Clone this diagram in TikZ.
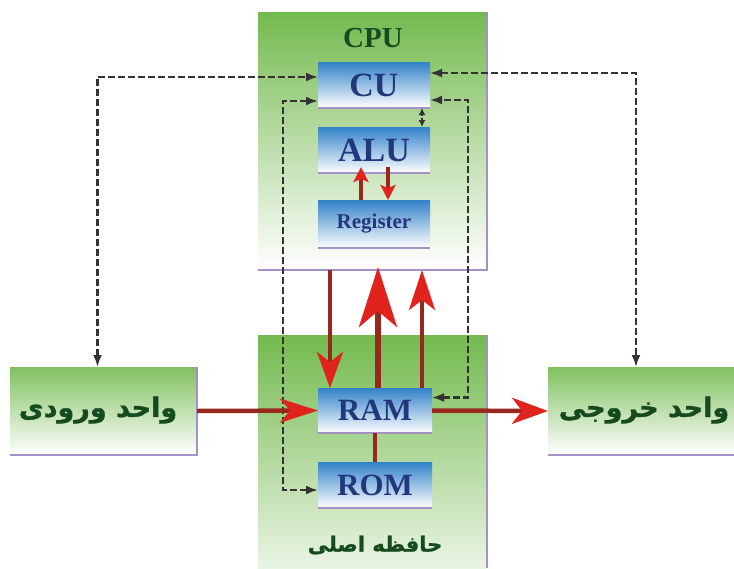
\documentclass[tikz,border=0pt]{standalone}
\usepackage{fontspec}
\setmainfont{Liberation Serif}
\newfontfamily\arabicfont[Script=Arabic,FakeBold=1.2]{DejaVu Sans Bold}
\TeXXeTstate=1
\usetikzlibrary{arrows.meta,calc}
\definecolor{panelgreen}{RGB}{115,186,78}
\definecolor{boxblue}{RGB}{50,130,200}
\definecolor{navy}{RGB}{35,55,125}
\definecolor{dkgreen}{RGB}{22,75,32}
\definecolor{shadowpurple}{RGB}{165,145,200}
\definecolor{arrowline}{RGB}{150,40,30}
\definecolor{arrowhead}{RGB}{225,35,30}
\tikzset{
  cpupanel/.style={rectangle, inner sep=0pt, outer sep=0pt, top color=panelgreen, middle color=panelgreen!60, bottom color=white, anchor=north west},
  mempanel/.style={rectangle, inner sep=0pt, outer sep=0pt, top color=panelgreen, middle color=panelgreen!60, bottom color=panelgreen!15, anchor=north west},
  iobox/.style={rectangle, inner sep=0pt, outer sep=0pt, top color=panelgreen!90, middle color=panelgreen!35, bottom color=white, anchor=north west, minimum width=187pt, minimum height=88pt},
  bluebox/.style={rectangle, inner sep=0pt, outer sep=0pt, top color=boxblue, middle color=boxblue!55, bottom color=white, minimum width=112pt, minimum height=46pt, text=navy, font=\bfseries\fontsize{34}{34}\selectfont},
  shadowline/.style={draw=shadowpurple, line width=1.2pt},
  ctrl/.style={draw=black!80, line width=2.2pt, dash pattern=on 7pt off 3pt, {Latex[length=12pt,width=9pt]}-{Latex[length=12pt,width=9pt]}},
  flow/.style={draw=arrowline, line width=4.5pt},
  persian/.style={text=dkgreen, font=\arabicfont\fontsize{27}{27}\selectfont},
}
\begin{document}
\begin{tikzpicture}[x=1pt,y=-1pt]
\useasboundingbox (0,0) rectangle (734,568);
\fill[white] (0,0) rectangle (734,568);
% panels
\node[cpupanel, minimum width=229pt, minimum height=258pt] (cpu) at (258,12) {};
\node[mempanel, minimum width=229pt, minimum height=233pt] (mem) at (258,335) {};
\draw[shadowline] (cpu.south west) -- (cpu.south east) -- (cpu.north east);
\draw[shadowline] (mem.north east) -- (mem.south east);
\node[text=dkgreen, font=\bfseries\fontsize{29}{29}\selectfont] (cpulabel) at (373,38) {CPU};
\node[persian, font=\arabicfont\fontsize{21}{21}\selectfont] (memlabel) at (375,545) {\beginR حافظه اصلی\endR};
% io boxes
\node[iobox] (in) at (10,367) {};
\node[iobox, minimum width=186pt] (out) at (548,367) {};
\draw[shadowline] (in.south west) -- (in.south east) -- (in.north east);
\draw[shadowline] (out.south west) -- (out.south east);
\node[persian] (intext) at (98,410) {\beginR واحد ورودی\endR};
\node[persian] (outtext) at (644,410) {\beginR واحد خروجی\endR};
% boxes
\node[bluebox] (cu) at (374,85) {CU};
\node[bluebox] (alu) at (374,150) {ALU};
\node[bluebox, minimum height=48pt, font=\bfseries\fontsize{21}{21}\selectfont] (reg) at (374,224) {Register};
\node[bluebox, minimum width=114pt, minimum height=45pt, font=\bfseries\fontsize{31}{31}\selectfont] (ram) at (375,410.5) {RAM};
\node[bluebox, minimum width=114pt, minimum height=46pt, font=\bfseries\fontsize{31}{31}\selectfont] (rom) at (375,485) {ROM};
\foreach \b in {cu,alu,reg,ram,rom}{
  \draw[shadowline] (\b.south west) -- (\b.south east);
}
% dashed control lines
\draw[ctrl] ($(in.north)+(-6,0)$) |- ($(cu.west)+(0,-8)$);
\draw[ctrl] ($(rom.west)+(0,5)$) -| ($(cu.west)+(-35,16)$) -- ($(cu.west)+(0,16)$);
\draw[ctrl] ($(cu.east)+(0,-12)$) -| ($(out.north)+(-5,0)$);
\draw[ctrl] ($(ram.east)+(0,-13)$) -| ($(cu.east)+(38,15)$) -- ($(cu.east)+(0,15)$);
\draw[ctrl, {Latex[length=7pt,width=7pt]}-{Latex[length=7pt,width=7pt]}, dash pattern=on 3pt off 2pt] ($(alu.north east)+(-8,0)$) -- ($(cu.south east)+(-8,0)$);
% red flows
\draw[flow, -{Stealth[length=38pt,width=24pt,inset=10pt,color=arrowhead]}] (in.east) -- (ram.west);
\draw[flow, -{Stealth[length=36pt,width=26pt,inset=10pt,color=arrowhead]}] (ram.east) -- (out.west);
\draw[flow] (ram.south) -- (rom.north);
\draw[flow, -{Stealth[length=36pt,width=26pt,inset=10pt,color=arrowhead]}] ($(cpu.south)+(-42.5,0)$) -- ($(ram.north)+(-45,0)$);
\draw[flow, line width=6pt, -{Stealth[length=60pt,width=38pt,inset=16pt,color=arrowhead]}] ($(ram.north)+(3,0)$) -- ($(cpu.south)+(5.5,-3)$);
\draw[flow, -{Stealth[length=40pt,width=26pt,inset=10pt,color=arrowhead]}] ($(ram.north)+(47,0)$) -- ($(cpu.south)+(49.5,0)$);
\draw[flow, line width=3.5pt, -{Stealth[length=15pt,width=15pt,inset=3pt,color=arrowhead]}] ($(reg.north)+(-13,0)$) -- ($(alu.south)+(-13,-6)$);
\draw[flow, line width=3.5pt, -{Stealth[length=15pt,width=15pt,inset=3pt,color=arrowhead]}] ($(alu.south)+(14,-6)$) -- ($(reg.north)+(14,0)$);
\end{tikzpicture}
\end{document}
